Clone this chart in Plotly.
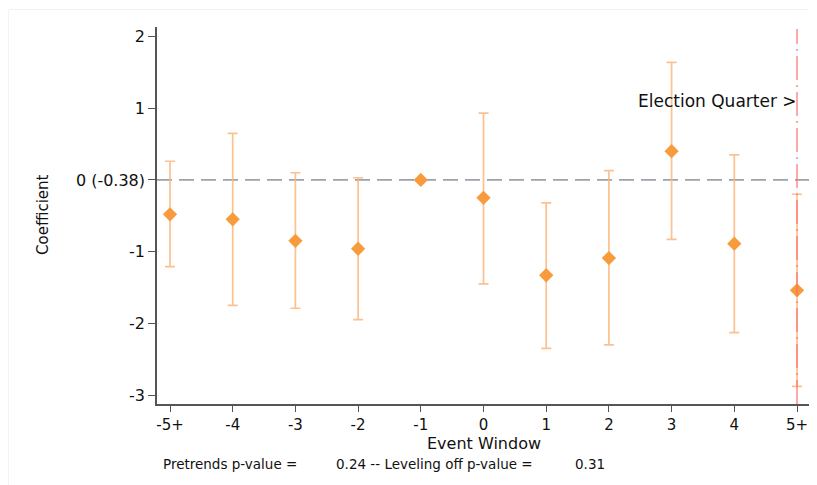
import plotly.graph_objects as go

labels = ["-5+", "-4", "-3", "-2", "-1", "0", "1", "2", "3", "4", "5+"]
coef = [-0.48, -0.55, -0.85, -0.96, 0.0, -0.25, -1.33, -1.09, 0.40, -0.89, -1.54]
ci_hi = [0.26, 0.65, 0.10, 0.03, 0.0, 0.93, -0.32, 0.13, 1.64, 0.35, -0.20]
ci_lo = [-1.21, -1.75, -1.79, -1.95, 0.0, -1.45, -2.35, -2.30, -0.83, -2.13, -2.88]
y_tickvals = [2, 1, 0, -1, -2, -3]
y_ticktext = ["2", "1", "0 (-0.38)", "-1", "-2", "-3"]
pretrend_p = 0.24
leveling_p = 0.31
election_idx = 10

FONT = "DejaVu Sans, Liberation Sans, Arial, sans-serif"

# plot-area geometry in page pixels (page has 8px body margin)
PL, PR, PT, PB = 157, 812, 27, 404
W, H = 817 - 8, 485 - 8


def px(x):
    return (x - PL) / (PR - PL)


def py(y):
    return (PB - y) / (PB - PT)


xs = list(range(len(labels)))
err_plus = [h - c for h, c in zip(ci_hi, coef)]
err_minus = [c - l for c, l in zip(coef, ci_lo)]

fig = go.Figure()
fig.add_trace(go.Scatter(
    x=xs, y=coef, mode="markers",
    marker=dict(symbol="diamond", size=11, color="#f89b3c"),
    error_y=dict(type="data", symmetric=False, array=err_plus, arrayminus=err_minus,
                 color="rgba(252,182,125,0.85)", thickness=1.7, width=5),
    showlegend=False, hoverinfo="skip",
))

# faint graph-region outline
fig.add_shape(type="rect", xref="paper", yref="paper",
              x0=px(8.5), x1=px(840), y0=py(9.5), y1=py(520),
              line=dict(color="#f3f3f3", width=1), layer="below")
# horizontal dashed reference line at 0
fig.add_shape(type="line", xref="paper", yref="y", x0=0, x1=1, y0=0, y1=0,
              line=dict(color="#9aa2aa", width=1.7, dash="15px,7px"), layer="below")
# vertical election quarter line
fig.add_shape(type="line", xref="x", yref="paper", x0=election_idx, x1=election_idx,
              y0=0, y1=py(29),
              line=dict(color="rgba(255,110,110,0.6)", width=2, dash="24px,5px,2px,5px"))

fig.add_annotation(x=election_idx, y=1.1, xref="x", yref="y", text="Election Quarter >",
                   showarrow=False, xanchor="right", yanchor="middle", xshift=2,
                   font=dict(size=17, color="#111", family=FONT))

# y-axis title
fig.add_annotation(x=px(43), y=py(215), xref="paper", yref="paper", text="Coefficient",
                   textangle=-90, showarrow=False, xanchor="center", yanchor="middle",
                   font=dict(size=15, color="#111", family=FONT))
# x-axis title
fig.add_annotation(x=px(484), y=py(444), xref="paper", yref="paper", text="Event Window",
                   showarrow=False, xanchor="center", yanchor="middle",
                   font=dict(size=16, color="#111", family=FONT))
# footnote
for xpos, txt in [(161, "Pretrends p-value ="),
                  (334, "%.2f -- Leveling off p-value =" % pretrend_p),
                  (573, "%.2f" % leveling_p)]:
    fig.add_annotation(x=px(xpos), y=py(464), xref="paper", yref="paper", text=txt,
                       showarrow=False, xanchor="left", yanchor="middle",
                       font=dict(size=13.5, color="#111", family=FONT))

x_per = (797 - 170) / 10.0
y_per = (395 - 36.5) / 5.0
fig.update_layout(
    width=W, height=H,
    margin=dict(l=PL - 8, r=W - (PR - 8), t=PT - 8, b=H - (PB - 8), pad=0),
    paper_bgcolor="white", plot_bgcolor="white",
    font=dict(family=FONT, color="#111"),
    xaxis=dict(range=[-(170 - PL) / x_per, 10 + (PR - 797) / x_per],
               tickvals=xs, ticktext=labels,
               showgrid=False, zeroline=False, showline=True, linecolor="#555", linewidth=1.5,
               ticks="outside", ticklen=6, tickwidth=1.3, tickcolor="#555",
               tickfont=dict(size=15)),
    yaxis=dict(range=[-3 - (PB - 395) / y_per, 2 + (36.5 - PT) / y_per],
               tickvals=y_tickvals, ticktext=y_ticktext,
               showgrid=False, zeroline=False, showline=True, linecolor="#555", linewidth=1.5,
               ticks="outside", ticklen=7, tickwidth=1.3, tickcolor="#555",
               tickfont=dict(size=16)),
)

fig.write_html("out.html")
